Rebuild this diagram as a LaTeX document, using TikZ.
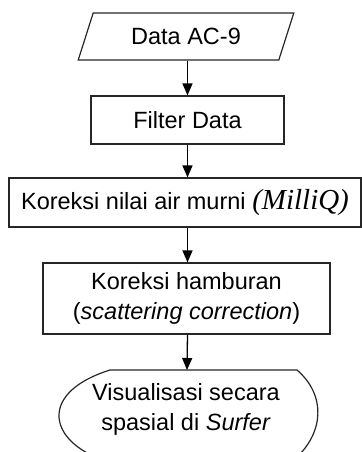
\documentclass[tikz,border=0pt]{standalone}
\usepackage{fontspec}
\setmainfont{Liberation Sans}
\newfontfamily\milliqfont{Liberation Serif}
\usetikzlibrary{arrows.meta,positioning,calc,shapes.geometric}

\begin{document}
\begin{tikzpicture}[x=0.5pt, y=-0.5pt,
font=\fontsize{11.75}{15}\selectfont,
stepbox/.style={rectangle, draw=black!85, line width=0.6pt, inner sep=0pt, align=center},
iobox/.style={trapezium, trapezium left angle=62, trapezium right angle=118, trapezium stretches=true, draw=black!85, line width=0.6pt, inner sep=0pt, minimum width=108.5pt, minimum height=23.5pt},
flow/.style={-{Triangle[length=6pt,width=5pt]}, line width=0.65pt},
]
\useasboundingbox (0,0) rectangle (362,452);
\clip (0,0) rectangle (362,452);
\node[iobox] (data) at (186,36.5) {Data AC-9};
\node[stepbox, minimum width=96.5pt, minimum height=24pt] (filter) at (187.5,120) {Filter Data};
\node[stepbox, minimum width=176pt, minimum height=24.5pt] (murni) at (185,202.5) {Koreksi nilai air murni {\milliqfont\itshape\fontsize{14.5}{15}\selectfont(MilliQ)}};
\node[stepbox, minimum width=143.5pt, minimum height=35.5pt] (hambur) at (186.5,298.5) {Koreksi hamburan\\(\textit{scattering correction})};
\coordinate (disptop) at (187,370);
\node[align=center, inner sep=0pt] (visual) at (186,409) {Visualisasi secara\\spasial di \textit{Surfer}};
\draw[draw=black!85, line width=0.6pt] (110,370) -- (297,370)
  .. controls (326,395) and (324,432) .. (296,458);
\draw[draw=black!85, line width=0.6pt] (110,370)
  .. controls (40,392) and (48,438) .. (98,458);

\draw[flow] (data.south -| filter.north) -- (filter.north);
\draw[flow] (filter.south) -- (filter.south |- murni.north);
\draw[flow] (filter.south |- murni.south) -- (filter.south |- hambur.north);
\draw[flow] (filter.south |- hambur.south) -- (disptop);
%\draw (0,0) rectangle (362,452);
\end{tikzpicture}
\end{document}
